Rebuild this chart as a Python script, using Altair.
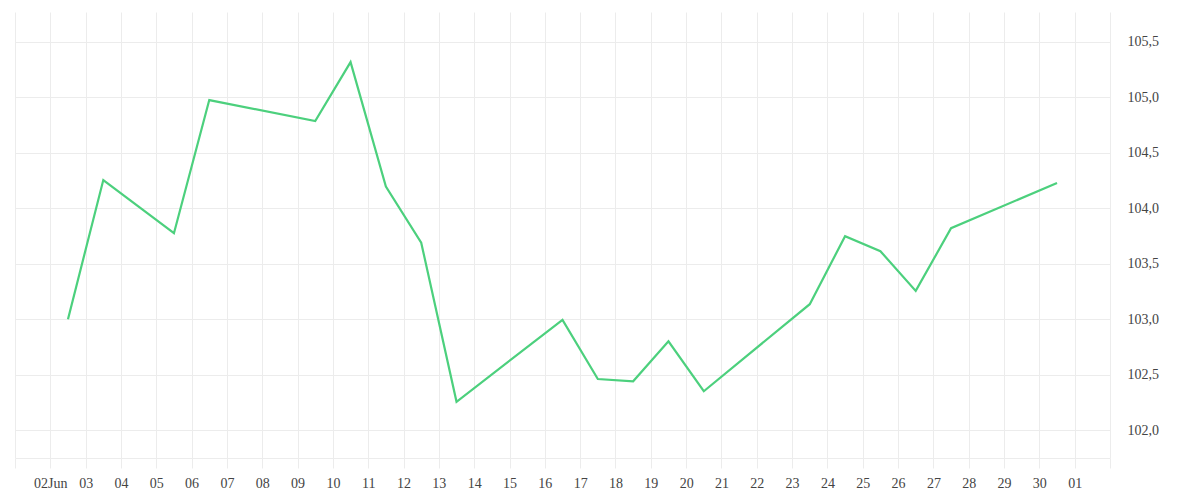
import altair as alt
import pandas as pd

# Data (daily closes plotted at midday)
dates = [
    "2014-06-02T12:00:00Z", "2014-06-03T12:00:00Z", "2014-06-05T12:00:00Z",
    "2014-06-06T12:00:00Z", "2014-06-09T12:00:00Z", "2014-06-10T12:00:00Z",
    "2014-06-11T12:00:00Z", "2014-06-12T12:00:00Z", "2014-06-13T12:00:00Z",
    "2014-06-16T12:00:00Z", "2014-06-17T12:00:00Z", "2014-06-18T12:00:00Z",
    "2014-06-19T12:00:00Z", "2014-06-20T12:00:00Z", "2014-06-23T12:00:00Z",
    "2014-06-24T12:00:00Z", "2014-06-25T12:00:00Z", "2014-06-26T12:00:00Z",
    "2014-06-27T12:00:00Z", "2014-06-30T12:00:00Z",
]
values = [
    103.00, 104.255, 103.775, 104.976, 104.786, 105.318,
    104.195, 103.69, 102.255, 102.994, 102.46, 102.44,
    102.80, 102.35, 103.135, 103.748, 103.613, 103.255,
    103.82, 104.228,
]
y_ticks = [102.0, 102.5, 103.0, 103.5, 104.0, 104.5, 105.0, 105.5]
y_domain = [101.748, 105.770]

# daily tick positions Jun 1 .. Jul 2 (UTC ms)
x_ticks = [int(t.value // 10**6) for t in pd.date_range("2014-06-01", "2014-07-02", freq="D", tz="UTC")]
x_domain = [x_ticks[0], x_ticks[-1]]

df = pd.DataFrame({"date": dates, "value": values})

FONT = "Liberation Serif"
GRID = "#ececec"
TEXT = "#444444"

label_expr = (
    "(utcmonth(datum.value) == 5 && utcdate(datum.value) == 1) || (utcmonth(datum.value) == 6 && utcdate(datum.value) == 2) ? '' : "
    "(utcmonth(datum.value) == 5 && utcdate(datum.value) == 2 ? '02Jun' : utcFormat(datum.value, '%d'))"
)

chart = (
    alt.Chart(df)
    .mark_line(color="#4cd07d", strokeWidth=2.2)
    .encode(
        x=alt.X(
            "date:T",
            scale=alt.Scale(type="utc", domain=x_domain),
            axis=alt.Axis(
                title=None,
                values=x_ticks,
                labelExpr=label_expr,
                grid=True,
                gridColor=GRID,
                domainColor=GRID,
                tickColor=GRID,
                tickSize=10,
                labelPadding=8,
                labelFont=FONT,
                labelFontSize=14,
                labelColor=TEXT,
                labelOverlap=False,
                labelFlush=False,
            ),
        ),
        y=alt.Y(
            "value:Q",
            scale=alt.Scale(domain=y_domain, nice=False, zero=False),
            axis=alt.Axis(
                title=None,
                orient="right",
                values=y_ticks,
                labelExpr="replace(format(datum.value, '.1f'), '.', ',')",
                grid=True,
                gridColor=GRID,
                domain=False,
                ticks=False,
                labelPadding=17,
                labelFont=FONT,
                labelFontSize=14,
                labelColor=TEXT,
                labelFlush=False,
            ),
        ),
    )
    .properties(
        width=1095,
        height=446,
        padding={"left": 6, "top": 4, "right": 5, "bottom": 5},
    )
    .configure_view(stroke="transparent")
)

chart.save("out.html", embed_options={"renderer": "svg", "actions": False})
